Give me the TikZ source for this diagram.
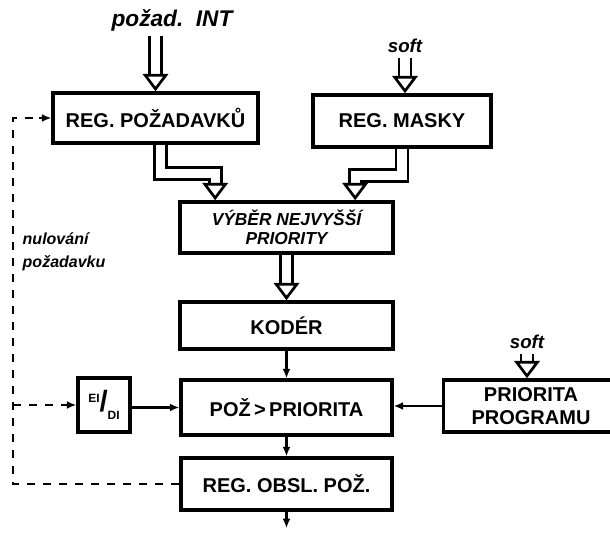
\documentclass[tikz,border=0pt]{standalone}
\usepackage{fontspec}
\setmainfont{Liberation Sans}
\usepackage{tikz}
\usetikzlibrary{arrows.meta,calc,positioning}

\begin{document}
\begin{tikzpicture}[x=0.75pt,y=-0.75pt,
  regbox/.style={draw,line width=2.6pt,inner sep=2pt,align=center,
    font=\bfseries\fontsize{15}{17}\selectfont},
  bus/.style={double=white,double distance=7pt,line width=2pt,line join=miter,
    -{Triangle[open,length=13pt,width=19pt,line width=2pt]}},
  sig/.style={line width=2pt,-{Latex[length=7pt,width=6pt]}},
  ctl/.style={line width=1.7pt,dash pattern=on 6pt off 6pt},
  hand/.style={font=\bfseries\itshape\fontsize{14}{16}\selectfont}]
  \useasboundingbox (0,0) rectangle (610,538);
  % ---- registers
  \node[regbox,minimum width=153.75pt,minimum height=37.5pt] (reqreg) at (155.5,118) {REG. POŽADAVKŮ};
  \node[regbox,minimum width=133.5pt,minimum height=39pt] (maskreg) at (402,121) {REG. MASKY};
  \node[regbox,minimum width=159.75pt,minimum height=38.25pt,
    font=\bfseries\itshape\fontsize{13}{14}\selectfont] (select) at (286.5,227.5) {VÝBĚR NEJVYŠŠÍ\\PRIORITY};
  \node[regbox,minimum width=159.75pt,minimum height=35.25pt] (coder) at (286.5,325.5) {KODÉR};
  \node[regbox,minimum width=158.25pt,minimum height=41.25pt] (compare) at (286.5,407.5) {POŽ\,>\,PRIORITA};
  \node[regbox,minimum width=39pt,minimum height=40.5pt,inner sep=0pt,
    font=\bfseries\fontsize{9}{10}\selectfont] (eidi) at (104,405)
    {\raisebox{7pt}{EI}{\fontsize{22}{22}\selectfont/}\raisebox{-6pt}{DI}};
  \node[regbox,minimum width=131pt,minimum height=39pt] (progprio) at (531,406) {PRIORITA\\PROGRAMU};
  \node[regbox,minimum width=158.25pt,minimum height=39pt] (servreg) at (286.5,484) {REG. OBSL. POŽ.};
  % ---- labels
  \node[hand,font=\bfseries\itshape\fontsize{17}{18}\selectfont] (intlbl) at (172,20) {požad.\ \ INT};
  \node[hand] (softa) at (405,46) {soft};
  \node[hand] (softb) at (527,342) {soft};
  \node[hand,anchor=west,align=left,font=\bfseries\itshape\fontsize{12}{17}\selectfont] (clrlbl) at (18,252) {nulování\\požadavku};
  \coordinate (out) at (286.5,528);
  \coordinate (lft) at (13,300);
  % ---- buses
  \draw[bus] (intlbl.south -| reqreg.north) -- (reqreg.north);
  \draw[bus] (softa.south) -- (softa.south |- maskreg.north);
  \draw[bus] (softb.south) -- (softb.south |- progprio.north);
  \draw[bus] ([xshift=3.5]reqreg.south) -- ++(0,29) -| ([xshift=-53.5]select.north);
  \draw[bus] (maskreg.south) -- ++(0,27) -| ([xshift=51.5]select.north);
  \draw[bus] (select.south) -- (coder.north);
  % ---- signals
  \draw[sig] (coder.south) -- (compare.north);
  \draw[sig] (compare.south) -- (servreg.north);
  \draw[sig] (servreg.south) -- (out);
  \draw[sig] (eidi.east |- compare.west) -- (compare.west);
  \draw[sig] (progprio.west) -- (progprio.west -| compare.east);
  % ---- clearing of request
  \draw[ctl] (servreg.west) -| (lft) |- ([xshift=-8pt]reqreg.west);
  \draw[sig,line width=1.7pt] ([xshift=-9pt]reqreg.west) -- (reqreg.west);
  \draw[ctl] (lft |- eidi.west) -- ([xshift=-8pt]eidi.west);
  \draw[sig,line width=1.7pt] ([xshift=-9pt]eidi.west) -- (eidi.west);
\end{tikzpicture}
\end{document}
